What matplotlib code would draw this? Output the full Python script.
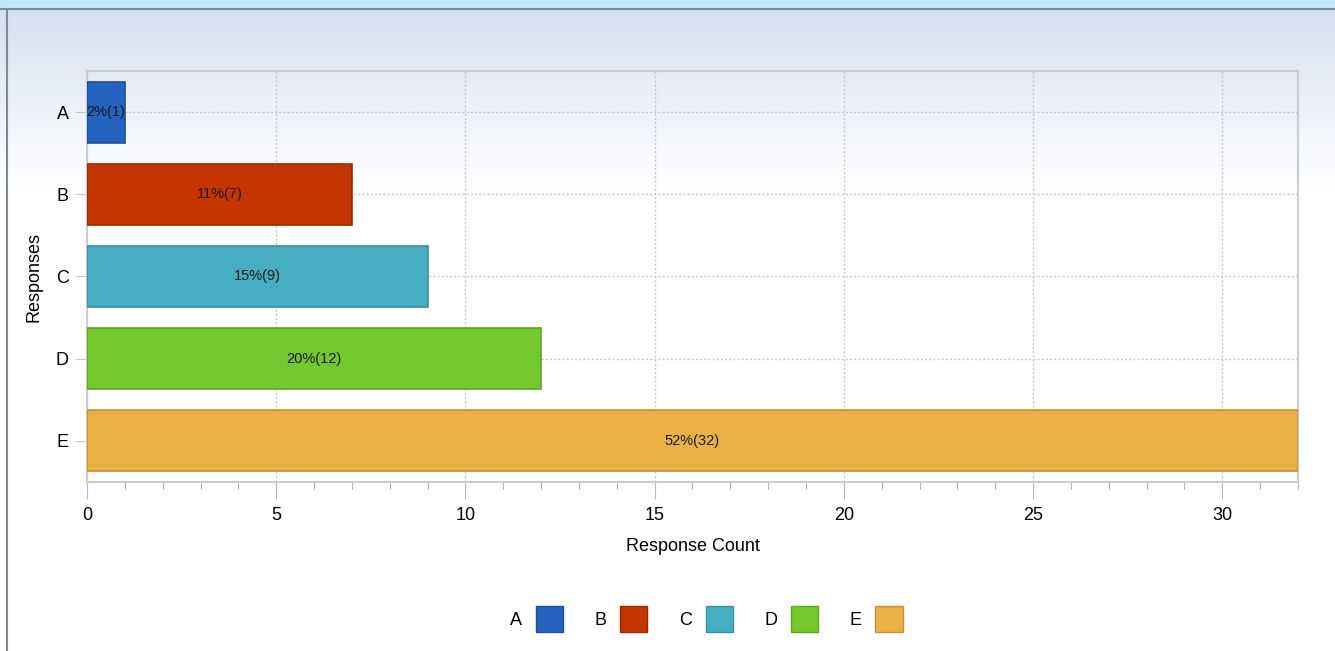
import numpy as np
import matplotlib
matplotlib.use("Agg")
import matplotlib.pyplot as plt
from matplotlib.patches import Patch, Rectangle

categories = ["A", "B", "C", "D", "E"]
counts = [1, 7, 9, 12, 32]
percents = [2, 11, 15, 20, 52]
colors = ["#2563c0", "#c43500", "#45afc1", "#74c72c", "#ebb145"]
edges = ["#1d4f9a", "#9c2a00", "#3a8fa0", "#5ea524", "#c4913a"]

plt.rcParams["font.family"] = ["Liberation Sans", "DejaVu Sans"]

fig = plt.figure(figsize=(13.35, 6.51), dpi=100)

# background gradient
bg = fig.add_axes([0, 0, 1, 1], zorder=-10)
grad = np.linspace(0, 1, 512)
top = np.array([0.84, 0.875, 0.945])
bot = np.array([1.0, 1.0, 1.0])
t = np.clip((grad - 0.015) / 0.27, 0, 1)
img = top * (1 - t)[:, None] + bot * t[:, None]
img = img.reshape(512, 1, 3)
bg.imshow(img, aspect="auto", extent=[0, 1, 0, 1], origin="upper")
bg.set_xlim(0, 1)
bg.set_ylim(0, 1)
bg.axis("off")
# top stripe and left border
bg.add_patch(Rectangle((0, 1 - 8 / 651), 1, 8 / 651, color="#bfe9f7", lw=0))
bg.plot([0, 1], [1 - 9 / 651, 1 - 9 / 651], color="#7f8a96", lw=1.5)
bg.plot([7 / 1335, 7 / 1335], [0, 1 - 9 / 651], color="#7f8a96", lw=1.5)

ax = fig.add_axes([87 / 1335, 1 - 482 / 651, (1298 - 87) / 1335, (482 - 71) / 651])
ax.set_facecolor((0, 0, 0, 0))
y = np.arange(len(categories))
bars = ax.barh(y, counts, height=0.74, color=colors, edgecolor=edges, linewidth=1.2, zorder=3)
for b, p, c in zip(bars, percents, counts):
    ax.text(b.get_width() / 2, b.get_y() + b.get_height() / 2, f"{p}%({c})",
            ha="center", va="center", fontsize=10.5, color="#1a1a1a", zorder=4)

ax.set_xlim(0, 32)
ax.set_ylim(4.5, -0.5)
ax.set_yticks(y)
ax.set_yticklabels(categories, fontsize=13)
ax.set_xticks(np.arange(0, 31, 5))
ax.set_xticks(np.arange(0, 33, 1), minor=True)
ax.tick_params(axis="x", which="major", labelsize=13, length=12, color="#b8b8b8", pad=6)
ax.tick_params(axis="x", which="minor", length=5, color="#a0a0a0")
ax.tick_params(axis="y", length=9, color="#c8c8c8", pad=4)
ax.grid(True, which="major", color="#c8c8c8", linestyle=(0, (1.5, 1.5)), linewidth=1, zorder=1)
for s in ax.spines.values():
    s.set_color("#c9cdd2")
    s.set_linewidth(1.5)
ax.set_xlabel("Response Count", fontsize=13, labelpad=10)
ax.set_ylabel("Responses", fontsize=13, labelpad=10)

handles = [Patch(facecolor=c, edgecolor=e, label=l) for c, e, l in zip(colors, edges, categories)]
fig.legend(handles=handles, loc="center", bbox_to_anchor=(0.5292, 1 - 619 / 651), ncol=5,
           frameon=False, markerfirst=False, fontsize=13, handlelength=1.5, handleheight=1.9,
           columnspacing=1.76, handletextpad=0.75)

fig.savefig("out.png", dpi=100)
